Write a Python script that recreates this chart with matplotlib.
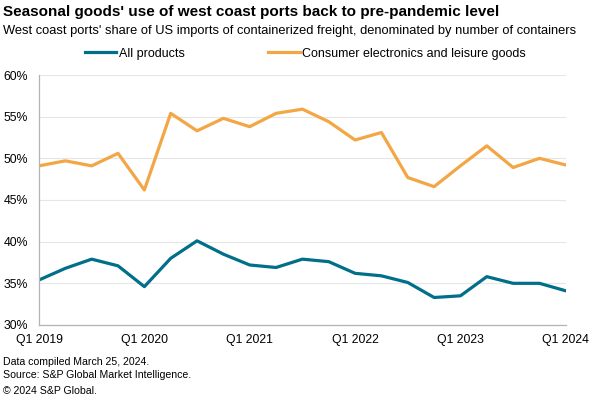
import matplotlib.pyplot as plt
import numpy as np

plt.rcParams['font.family'] = ['Liberation Sans', 'DejaVu Sans']

quarters = ['Q1 2019', 'Q2 2019', 'Q3 2019', 'Q4 2019',
            'Q1 2020', 'Q2 2020', 'Q3 2020', 'Q4 2020',
            'Q1 2021', 'Q2 2021', 'Q3 2021', 'Q4 2021',
            'Q1 2022', 'Q2 2022', 'Q3 2022', 'Q4 2022',
            'Q1 2023', 'Q2 2023', 'Q3 2023', 'Q4 2023',
            'Q1 2024']
all_products = [35.4, 36.8, 37.9, 37.1, 34.6, 38.0, 40.1, 38.5, 37.2, 36.9, 37.9,
                37.6, 36.2, 35.9, 35.1, 33.3, 33.5, 35.8, 35.0, 35.0, 34.1]
consumer_elec = [49.1, 49.7, 49.1, 50.6, 46.2, 55.4, 53.3, 54.8, 53.8, 55.4, 55.9,
                 54.4, 52.2, 53.1, 47.7, 46.6, 49.1, 51.5, 48.9, 50.0, 49.2]
yticks = [30, 35, 40, 45, 50, 55, 60]

blue = '#006f89'
orange = '#f3a644'

fig = plt.figure(figsize=(6, 3.99), dpi=100)
ax = fig.add_axes([0.065, 0.1855, 0.878, 0.6265])

x = np.arange(len(quarters))
ax.plot(x, all_products, color=blue, lw=2.3, label='All products')
ax.plot(x, consumer_elec, color=orange, lw=2.3, label='Consumer electronics and leisure goods')

ax.set_xlim(0, len(quarters) - 1)
ax.set_ylim(30, 60)
ax.set_yticks(yticks)
ax.set_yticklabels([f'{v}%' for v in yticks])
ax.set_xticks(x[::4])
ax.set_xticklabels(quarters[::4])
ax.tick_params(length=0, labelsize=8.8, colors='black')
ax.tick_params(axis='y', pad=8)
ax.tick_params(axis='x', pad=6.5)
ax.grid(axis='y', color='#e6e6e6', lw=0.8)
ax.set_axisbelow(True)
for s in ['top', 'right']:
    ax.spines[s].set_visible(False)
for s in ['left', 'bottom']:
    ax.spines[s].set_color('#b3b3b3')
    ax.spines[s].set_linewidth(0.9)

fig.legend(loc='center left', bbox_to_anchor=(0.123, 0.865), ncol=2, frameon=False,
           fontsize=9, handlelength=2.5, handletextpad=0.2, columnspacing=6.7)

fig.text(0.005, 0.96, "Seasonal goods' use of west coast ports back to pre-pandemic level",
         fontsize=11, fontweight='bold', va='baseline')
fig.text(0.005, 0.915, "West coast ports' share of US imports of containerized freight, denominated by number of containers",
         fontsize=9.3, va='baseline')
fig.text(0.005, 0.085, 'Data compiled March 25, 2024.', fontsize=7.6, va='baseline')
fig.text(0.005, 0.053, 'Source: S&P Global Market Intelligence.', fontsize=7.6, va='baseline')
fig.text(0.005, 0.012, '\u00a9 2024 S&P Global.', fontsize=7.6, va='baseline')

fig.savefig('out.png', dpi=100)
